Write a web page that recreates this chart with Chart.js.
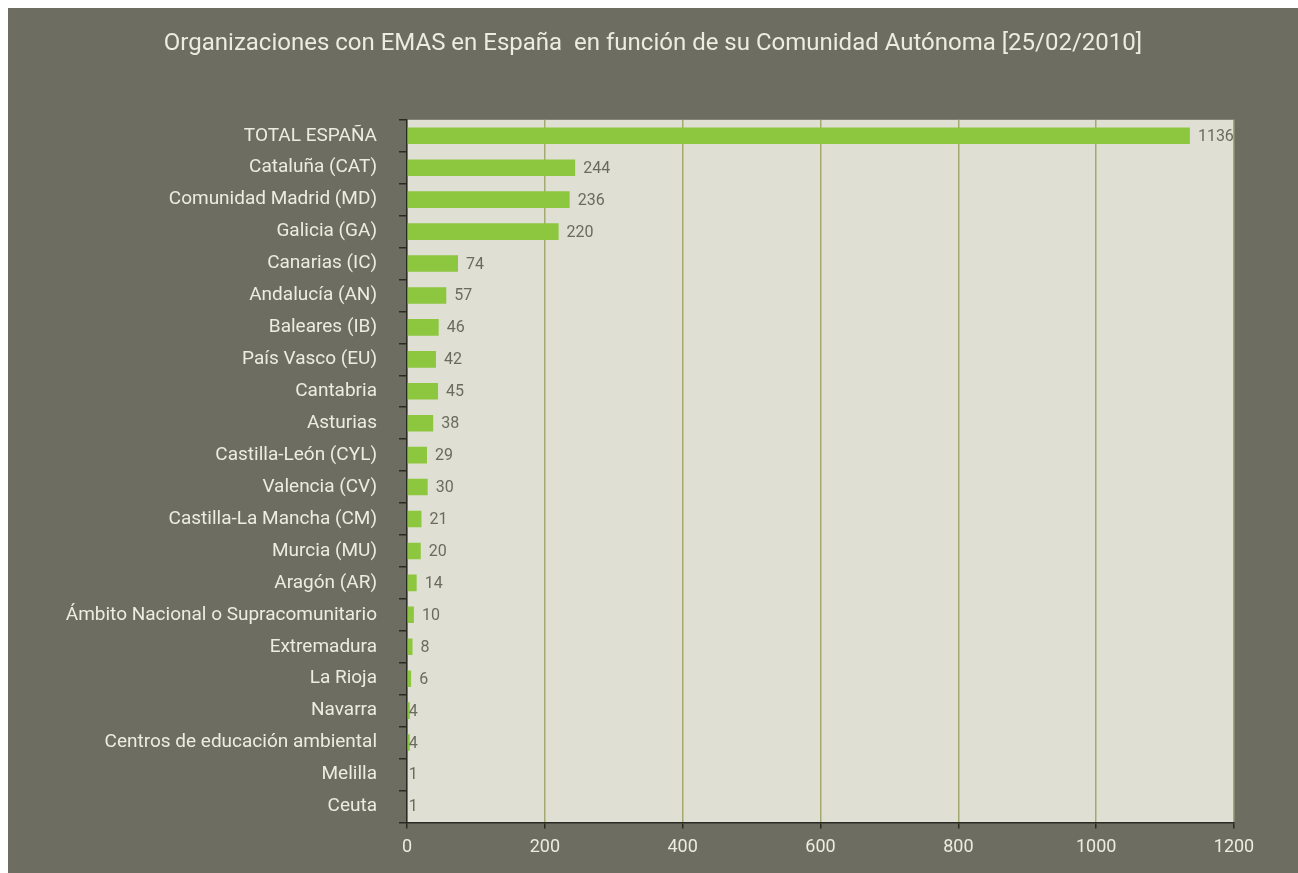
<!DOCTYPE html>
<html>
<head>
<meta charset="utf-8">
<script src="https://cdn.jsdelivr.net/npm/chart.js@4.4.1/dist/chart.umd.min.js"></script>
<style>
  html, body { margin: 0; padding: 0; background: #fff; }
  #wrap { position: absolute; left: 8px; top: 8px; width: 1290px; height: 865px; }
</style>
</head>
<body>
<div id="wrap"><canvas id="emasChart"></canvas></div>
<script>
// ===== data =====
const titleText = "Organizaciones con EMAS en España  en función de su Comunidad Autónoma [25/02/2010]";
const regions = [
  "TOTAL ESPAÑA", "Cataluña (CAT)", "Comunidad Madrid (MD)", "Galicia (GA)",
  "Canarias (IC)", "Andalucía (AN)", "Baleares (IB)", "País Vasco (EU)",
  "Cantabria", "Asturias", "Castilla-León (CYL)", "Valencia (CV)",
  "Castilla-La Mancha (CM)", "Murcia (MU)", "Aragón (AR)",
  "Ámbito Nacional o Supracomunitario", "Extremadura", "La Rioja",
  "Navarra", "Centros de educación ambiental", "Melilla", "Ceuta"
];
const organizaciones = [1136, 244, 236, 220, 74, 57, 46, 42, 45, 38, 29, 30, 21, 20, 14, 10, 8, 6, 4, 4, 1, 1];
const xTicks = [0, 200, 400, 600, 800, 1000, 1200];

// ===== colours =====
const bgColor = "#6d6e61";
const plotColor = "#dfe0d3";
const barColor = "#8dc63f";
const gridColor = "#a4a871";
const axisColor = "#2a2a25";
const lightText = "#ecece0";
const valueText = "#6a6b5f";
const fontFamily = "Roboto, 'Open Sans', sans-serif";

// background of canvas + plot area
const backdrop = {
  id: "backdrop",
  beforeDraw(chart) {
    const { ctx, chartArea: a } = chart;
    ctx.save();
    ctx.fillStyle = bgColor;
    ctx.fillRect(0, 0, chart.width, chart.height);
    ctx.fillStyle = plotColor;
    ctx.fillRect(a.left, a.top, a.right - a.left, a.bottom - a.top);
    ctx.restore();
  }
};

// value labels at the end of each bar
const valueLabels = {
  id: "valueLabels",
  afterDatasetsDraw(chart) {
    const { ctx } = chart;
    const meta = chart.getDatasetMeta(0);
    ctx.save();
    ctx.fillStyle = valueText;
    ctx.font = "16px " + fontFamily;
    ctx.textBaseline = "middle";
    meta.data.forEach((bar, i) => {
      const v = organizaciones[i];
      const x = v < 5 ? bar.base + 1 : bar.x + 8;
      ctx.fillText(String(v), x, bar.y + 1);
    });
    ctx.restore();
  }
};

new Chart(document.getElementById("emasChart"), {
  type: "bar",
  data: {
    labels: regions,
    datasets: [{
      data: organizaciones,
      backgroundColor: barColor,
      borderWidth: 0,
      barPercentage: 0.52,
      categoryPercentage: 1.0
    }]
  },
  options: {
    indexAxis: "y",
    responsive: true,
    maintainAspectRatio: false,
    animation: false,
    layout: { padding: { left: 0, right: 0, top: 0, bottom: 7 } },
    scales: {
      x: {
        min: 0,
        max: 1200,
        afterBuildTicks: (scale) => { scale.ticks = xTicks.map(v => ({ value: v })); },
        grid: { color: gridColor, lineWidth: 1.5, tickColor: axisColor, tickLength: 6 },
        border: { color: axisColor, width: 1.5 },
        ticks: {
          color: lightText,
          font: { size: 18, family: fontFamily },
          padding: 8,
          callback: (v) => String(v)
        }
      },
      y: {
        afterFit: (scale) => { scale.width = 399; },
        grid: { offset: true, drawOnChartArea: false, color: axisColor, tickLength: 8, lineWidth: 1.5 },
        border: { color: axisColor, width: 1.5 },
        ticks: { color: lightText, font: { size: 19, family: fontFamily }, padding: 22, autoSkip: false }
      },
      // empty strip on the right, keeps the plot narrower than the title
      yRight: {
        type: "category",
        axis: "y",
        position: "right",
        afterFit: (scale) => { scale.width = 64; },
        grid: { display: false },
        border: { display: false },
        ticks: { display: false }
      }
    },
    plugins: {
      legend: { display: false },
      tooltip: { enabled: false },
      title: {
        display: true,
        text: titleText,
        color: lightText,
        font: { size: 24, weight: "normal", family: fontFamily },
        padding: { top: 22, bottom: 61 }
      }
    }
  },
  plugins: [backdrop, valueLabels]
});
</script>
</body>
</html>
